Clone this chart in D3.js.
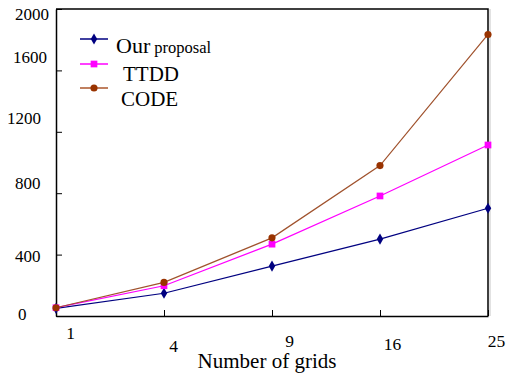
<!DOCTYPE html>
<html>
<head>
<meta charset="utf-8">
<script src="https://cdn.jsdelivr.net/npm/d3@7"></script>
<style>
  body { margin: 0; background: #fff; }
</style>
</head>
<body>
<div class="container"></div>
<script>
// data
var grids = ["1", "4", "9", "16", "25"];
var ourProposal = [50, 148, 325, 501, 702];
var ttdd = [54, 197, 468, 782, 1114];
var code = [54, 219, 509, 980, 1834];
var yTicks = [0, 400, 800, 1200, 1600, 2000];

var FONT = "'Liberation Serif', 'Times New Roman', Times, serif";

var series = [
  {name: "Our", small: "proposal", values: ourProposal, color: "#000080", line: "#000080", symbol: d3.symbolDiamond, size: 36},
  {name: "TTDD", values: ttdd, color: "#ff00ff", line: "#ff00ff", symbol: d3.symbolSquare, size: 45},
  {name: "CODE", values: code, color: "#993300", line: "#a0522d", symbol: d3.symbolCircle, size: 40}
];

var W = 506, H = 376;
var margin = {top: 9, right: 18, bottom: 60, left: 56};

var svg = d3.select(".container").append("svg")
    .attr("width", W)
    .attr("height", H)
    .attr("font-family", FONT);

var x = d3.scalePoint()
    .domain(grids)
    .range([margin.left, W - margin.right]);

var y = d3.scaleLinear()
    .domain([0, 2000])
    .range([H - margin.bottom, margin.top]);

// plot frame (top + right), with a faint shadow line on the right
svg.append("line")
  .attr("x1", W - margin.right + 2).attr("x2", W - margin.right + 2)
  .attr("y1", margin.top).attr("y2", H - margin.bottom)
  .attr("stroke", "#d8d8d8").attr("stroke-width", 1.5);
svg.append("path")
  .attr("d", "M" + margin.left + "," + margin.top + "H" + (W - margin.right) + "V" + (H - margin.bottom))
  .attr("fill", "none").attr("stroke", "#000").attr("stroke-width", 1.5);

// y axis, ticks point inward; labels were placed by hand in the original
var yNudge = {0: [18, -3], 400: [15, 1], 800: [15, -11], 1200: [7, -14.5], 1600: [13, -14], 2000: [15, 4]};
var yAxis = svg.append("g")
  .attr("transform", "translate(" + margin.left + ",0)")
  .call(d3.axisLeft(y).tickValues(yTicks).tickSizeInner(-6).tickSizeOuter(0).tickFormat(d3.format("d")))
  .attr("font-family", FONT);
yAxis.select(".domain").attr("stroke-width", 1.5);
yAxis.selectAll(".tick line").attr("stroke-width", 1);
yAxis.selectAll(".tick text")
  .attr("font-size", 17)
  .attr("fill", "#000")
  .attr("text-anchor", "start")
  .attr("x", function(d) { return yNudge[d][0] - margin.left; })
  .attr("dy", function(d) { return (yNudge[d][1] + 6) + "px"; });

// x axis, ticks inward
var xNudge = {"1": [14, 23], "4": [9, 36], "9": [17, 30.5], "16": [12, 34], "25": [8, 31]};
var xAxis = svg.append("g")
  .attr("transform", "translate(0," + (H - margin.bottom) + ")")
  .call(d3.axisBottom(x).tickSizeInner(-6).tickSizeOuter(0))
  .attr("font-family", FONT);
xAxis.select(".domain").attr("stroke-width", 1.5);
xAxis.selectAll(".tick line").attr("stroke-width", 1);
xAxis.selectAll(".tick text")
  .attr("font-size", 17.5)
  .attr("fill", "#000")
  .attr("dy", null)
  .attr("x", function(d) { return xNudge[d][0]; })
  .attr("y", function(d) { return xNudge[d][1]; });

svg.append("text")
  .attr("x", 267).attr("y", 368)
  .attr("text-anchor", "middle")
  .attr("font-size", 21)
  .text("Number of grids");

// lines + markers
var line = d3.line()
  .x(function(d, i) { return x(grids[i]); })
  .y(function(d) { return y(d); });

series.forEach(function(s) {
  svg.append("path")
    .datum(s.values)
    .attr("d", line)
    .attr("fill", "none")
    .attr("stroke", s.line)
    .attr("stroke-width", 1.2);
  svg.selectAll(null)
    .data(s.values)
    .enter().append("path")
    .attr("transform", function(d, i) { return "translate(" + x(grids[i]) + "," + y(d) + ")"; })
    .attr("d", d3.symbol().type(s.symbol).size(s.size))
    .attr("fill", s.color);
});

// legend
var legendY = [39, 64, 88];
var legendText = [[116, 53], [123, 81], [121, 106]];
series.forEach(function(s, i) {
  var g = svg.append("g");
  g.append("line")
    .attr("x1", 80).attr("x2", 108)
    .attr("y1", legendY[i]).attr("y2", legendY[i])
    .attr("stroke", i == 2 ? "#c08060" : s.line)
    .attr("stroke-width", i == 2 ? 2 : 1.5);
  g.append("path")
    .attr("transform", "translate(94," + legendY[i] + ")")
    .attr("d", d3.symbol().type(s.symbol).size(s.size))
    .attr("fill", s.color);
  var t = g.append("text")
    .attr("x", legendText[i][0]).attr("y", legendText[i][1])
    .attr("font-size", i == 0 ? 22 : 21);
  t.append("tspan").text(s.name);
  if (s.small) t.append("tspan").attr("font-size", 16.5).text(" " + s.small);
});
</script>
</body>
</html>
